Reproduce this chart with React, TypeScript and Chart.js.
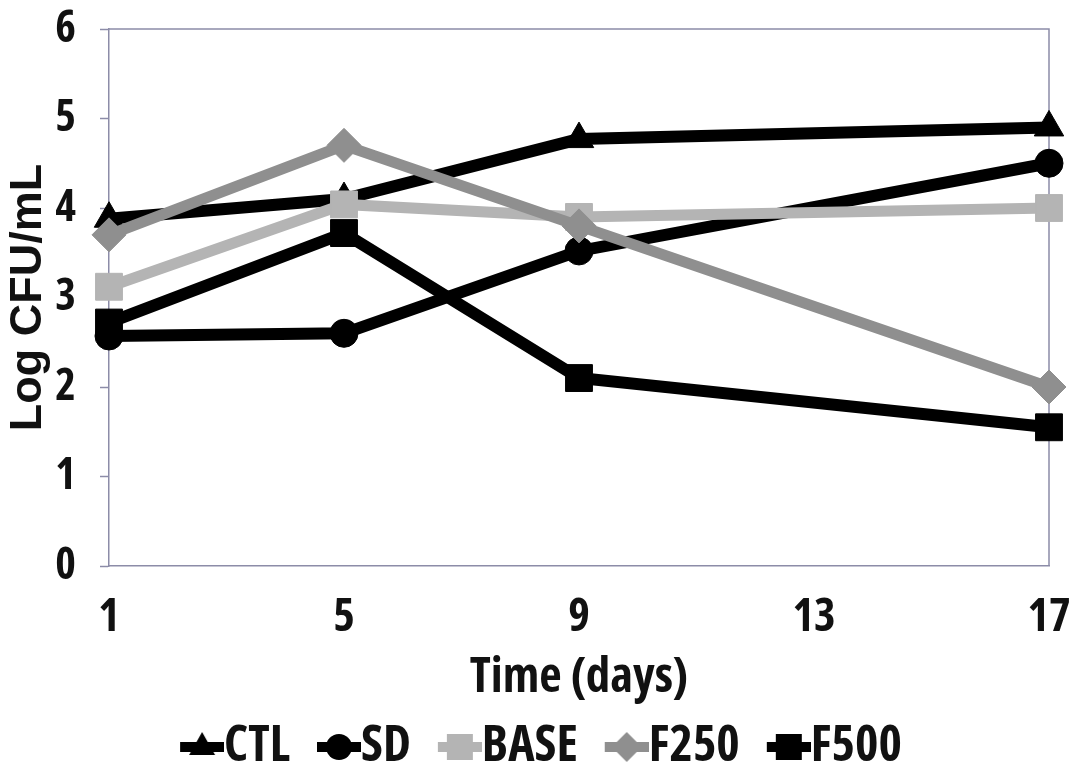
import React, { useEffect, useRef } from 'react';
import { Chart, registerables } from 'chart.js';

Chart.register(...registerables);

// ---- data ----
const days = [1, 5, 9, 17];
const xTickValues = [1, 5, 9, 13, 17];
const seriesNames = ['CTL', 'SD', 'BASE', 'F250', 'F500'];
const ctlValues = [3.88, 4.1, 4.77, 4.9];
const sdValues = [2.57, 2.6, 3.52, 4.5];
const baseValues = [3.12, 4.04, 3.9, 4.0];
const f250Values = [3.7, 4.7, 3.8, 2.0];
const f500Values = [2.72, 3.72, 2.1, 1.55];
const yTitle = 'Log CFU/mL';
const xTitle = 'Time (days)';

const allValues = [ctlValues, sdValues, baseValues, f250Values, f500Values];

// ---- styles ----
const WIDE = '"Liberation Sans", Arial, sans-serif';
const COND = '"Open Sans", "Liberation Sans", sans-serif';
const COND_BOLD = 'bold condensed';
const LEG_FONT = 50;
const LEG_BOX = 22;
const AXIS_COLOR = '#8c8ca8';
const seriesStyles = [
  { color: '#000000', marker: 'triangle', radius: 17, width: 12 },
  { color: '#000000', marker: 'circle', radius: 14, width: 12 },
  { color: '#b4b4b4', marker: 'rect', radius: 19, width: 11 },
  { color: '#8f8f8f', marker: 'rectRot', radius: 17, width: 11 },
  { color: '#000000', marker: 'rect', radius: 19, width: 12 },
];

function makeIcon(marker: string, color: string): HTMLCanvasElement {
  const iconW = 44;
  const c = document.createElement('canvas');
  c.width = LEG_BOX + LEG_FONT;
  c.height = 40;
  const g = c.getContext('2d')!;
  const x0 = c.width - iconW;
  g.strokeStyle = color;
  g.fillStyle = color;
  g.lineWidth = 10;
  g.beginPath();
  g.moveTo(x0, 20);
  g.lineTo(c.width, 20);
  g.stroke();
  const cx = x0 + iconW / 2;
  const cy = 20;
  g.beginPath();
  if (marker === 'triangle') {
    g.moveTo(cx, cy - 15);
    g.lineTo(cx + 13, cy + 8);
    g.lineTo(cx - 13, cy + 8);
    g.closePath();
  } else if (marker === 'circle') {
    g.arc(cx, cy, 13, 0, Math.PI * 2);
  } else if (marker === 'rect') {
    g.rect(cx - 13, cy - 13, 26, 26);
  } else {
    g.moveTo(cx, cy - 15);
    g.lineTo(cx + 15, cy);
    g.lineTo(cx, cy + 15);
    g.lineTo(cx - 15, cy);
    g.closePath();
  }
  g.fill();
  return c;
}

const boxPlugin = {
  id: 'plotBox',
  afterLayout(chart: any) {
    const lg = chart.legend;
    if (lg) {
      lg.left += 30;
      lg.top += 4;
      lg.bottom += 4;
    }
  },
  beforeDatasetsDraw(chart: any) {
    const { ctx, chartArea } = chart;
    const { left, top, right, bottom } = chartArea;
    ctx.save();
    ctx.strokeStyle = AXIS_COLOR;
    ctx.lineWidth = 1.5;
    ctx.beginPath();
    ctx.moveTo(left, top);
    ctx.lineTo(right, top);
    ctx.lineTo(right, bottom);
    ctx.stroke();
    ctx.restore();
  },
};

export default function App() {
  const canvasRef = useRef<HTMLCanvasElement | null>(null);

  useEffect(() => {
    if (!canvasRef.current) return;
    const icons = seriesStyles.map((s) => makeIcon(s.marker, s.color));
    const datasets = seriesNames.map((name, i) => ({
      label: name,
      data: days.map((d, j) => ({ x: d, y: allValues[i][j] })),
      borderColor: seriesStyles[i].color,
      backgroundColor: seriesStyles[i].color,
      borderWidth: seriesStyles[i].width,
      pointStyle: seriesStyles[i].marker,
      pointRadius: seriesStyles[i].radius,
      pointBorderWidth: 1,
      pointBackgroundColor: seriesStyles[i].color,
      pointBorderColor: seriesStyles[i].color,
      tension: 0,
      clip: false as any,
      order: seriesNames.length - i,
    }));

    const chart = new Chart(canvasRef.current, {
      type: 'line',
      data: { datasets },
      plugins: [boxPlugin],
      options: {
        animation: false,
        responsive: false,
        layout: { padding: { top: 29, right: 28, left: 0, bottom: 0 } },
        scales: {
          x: {
            type: 'linear',
            min: 1,
            max: 17,
            afterBuildTicks: (scale: any) => {
              scale.ticks = xTickValues.map((v) => ({ value: v }));
            },
            afterFit: (scale: any) => {
              scale.height = 128;
            },
            grid: {
              display: true,
              drawOnChartArea: false,
              drawTicks: true,
              tickLength: 24,
              tickColor: 'rgba(0,0,0,0)',
            },
            border: { display: true, color: AXIS_COLOR, width: 1.5 },
            ticks: {
              padding: 0,
              color: '#111',
              font: { family: COND, size: 46, weight: COND_BOLD },
              maxRotation: 0,
            },
            title: {
              display: true,
              text: xTitle,
              color: '#111',
              font: { family: COND, size: 49, weight: COND_BOLD, lineHeight: 0.65 },
              padding: 0,
            },
          },
          y: {
            min: 0,
            max: 6,
            afterFit: (scale: any) => {
              scale.width = 109;
            },
            grid: {
              display: true,
              drawOnChartArea: false,
              drawTicks: true,
              tickLength: 9,
              tickColor: AXIS_COLOR,
              tickWidth: 1.5,
            },
            border: { display: true, color: AXIS_COLOR, width: 1.5 },
            ticks: {
              stepSize: 1,
              padding: 24,
              color: '#111',
              font: { family: COND, size: 44, weight: COND_BOLD, lineHeight: 0.2 },
            },
            title: {
              display: true,
              text: yTitle,
              color: '#111',
              font: { family: WIDE, size: 45, weight: 'bold', lineHeight: 1.25 },
              padding: 0,
            },
          },
        },
        plugins: {
          tooltip: { enabled: false },
          legend: {
            display: true,
            position: 'bottom',
            labels: {
              usePointStyle: true,
              pointStyleWidth: LEG_BOX,
              padding: 24,
              color: '#111',
              font: { family: COND, size: LEG_FONT, weight: COND_BOLD },
              sort: (a: any, b: any) => a.datasetIndex - b.datasetIndex,
              generateLabels: (ch: any) => {
                const items = Chart.defaults.plugins.legend.labels.generateLabels(ch);
                return items.map((it: any) => ({
                  ...it,
                  pointStyle: icons[it.datasetIndex],
                  lineWidth: 0,
                }));
              },
            },
          },
        },
      } as any,
    });
    return () => chart.destroy();
  }, []);

  return (
    <div style={{ position: 'absolute', left: 0, top: 0, width: 1077, height: 778, background: '#fff' }}>
      <canvas ref={canvasRef} width={1077} height={778} />
    </div>
  );
}
